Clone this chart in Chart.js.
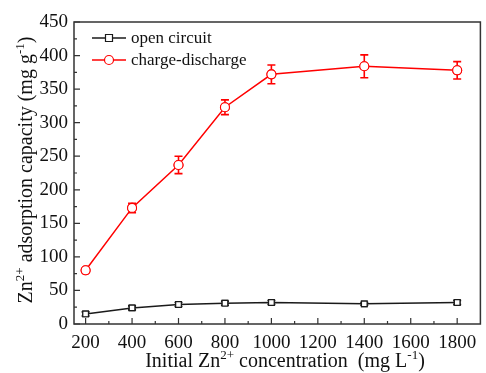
<!DOCTYPE html>
<html>
<head>
<meta charset="utf-8">
<script src="https://cdn.jsdelivr.net/npm/chart.js@4.4.0/dist/chart.umd.min.js"></script>
<style>
  html, body { margin: 0; padding: 0; background: #fff; }
  #wrap { width: 486px; height: 373px; }
</style>
</head>
<body>
<div id="wrap"><canvas id="zincChart"></canvas></div>
<script>
// ===== data =====
const concentrations = [200, 400, 600, 800, 1000, 1400, 1800];
const openCircuit = [15, 24, 29, 31, 32, 30, 32];
const openCircuitErr = [3, 3, 3, 3, 3, 2, 3];
const chargeDischarge = [80, 173, 237, 323, 372, 384, 378];
const chargeDischargeErr = [3, 7, 13, 11, 14, 17, 13];
const xTicks = [200, 400, 600, 800, 1000, 1200, 1400, 1600, 1800];
const yTicks = [0, 50, 100, 150, 200, 250, 300, 350, 400, 450];

const FONT = "'Liberation Serif', 'Times New Roman', serif";

// ===== error bars (markers redrawn on top) =====
const errorBars = {
    id: "errorBars",
    afterDatasetsDraw(chart) {
        const { ctx, scales: { x, y } } = chart;
        chart.data.datasets.forEach((ds, di) => {
            ctx.save();
            ctx.strokeStyle = ds.borderColor;
            ctx.lineWidth = 1.6;
            ds.data.forEach((pt, i) => {
                const e = ds.errors[i];
                const px = x.getPixelForValue(pt.x);
                const top = y.getPixelForValue(pt.y + e);
                const bot = y.getPixelForValue(pt.y - e);
                ctx.beginPath();
                ctx.moveTo(px, top); ctx.lineTo(px, bot);
                ctx.moveTo(px - 4, top); ctx.lineTo(px + 4, top);
                ctx.moveTo(px - 4, bot); ctx.lineTo(px + 4, bot);
                ctx.stroke();
            });
            chart.getDatasetMeta(di).data.forEach(p => p.draw(ctx, chart.chartArea));
            ctx.restore();
        });
    }
};

// ===== frame, inner ticks, titles, legend =====
function drawSup(ctx, parts, x, y) {
    // parts: [text, isSup], centred on x
    const base = ctx.font;
    const supFont = "13px " + FONT;
    let total = 0;
    parts.forEach(p => {
        ctx.font = p[1] ? supFont : base;
        total += ctx.measureText(p[0]).width;
    });
    let cx = x - total / 2;
    parts.forEach(p => {
        ctx.font = p[1] ? supFont : base;
        ctx.fillText(p[0], cx, p[1] ? y - 8 : y);
        cx += ctx.measureText(p[0]).width;
    });
    ctx.font = base;
}

const decorations = {
    id: "decorations",
    afterDraw(chart) {
        const { ctx, chartArea: a, scales: { x, y } } = chart;
        ctx.save();
        ctx.strokeStyle = "#333";
        ctx.lineWidth = 1.5;
        ctx.strokeRect(a.left, a.top, a.right - a.left, a.bottom - a.top);

        // inward ticks, major + minor
        ctx.lineWidth = 1.2;
        ctx.beginPath();
        for (let v = 200; v <= 1800; v += 100) {
            const px = x.getPixelForValue(v);
            const len = v % 200 === 0 ? 6 : 3;
            ctx.moveTo(px, a.bottom); ctx.lineTo(px, a.bottom - len);
        }
        for (let v = 0; v <= 450; v += 25) {
            const py = y.getPixelForValue(v);
            const len = v % 50 === 0 ? 6 : 3;
            ctx.moveTo(a.left, py); ctx.lineTo(a.left + len, py);
        }
        ctx.stroke();

        // axis titles
        ctx.fillStyle = "#111";
        ctx.textBaseline = "alphabetic";
        ctx.font = "20px " + FONT;
        drawSup(ctx, [["Initial Zn", false], ["2+", true], [" concentration  (mg L", false], ["-1", true], [")", false]],
            285, 367);

        ctx.save();
        ctx.translate(32, 170);
        ctx.rotate(-Math.PI / 2);
        drawSup(ctx, [["Zn", false], ["2+", true], [" adsorption capacity (mg g", false], ["-1", true], [")", false]],
            0, 0);
        ctx.restore();

        // legend
        ctx.font = "17px " + FONT;
        ctx.textBaseline = "middle";
        chart.data.datasets.forEach((ds, i) => {
            const ly = 38 + i * 22;
            ctx.strokeStyle = ds.borderColor;
            ctx.lineWidth = 1.6;
            ctx.beginPath();
            ctx.moveTo(92, ly); ctx.lineTo(126, ly);
            ctx.stroke();
            ctx.fillStyle = "#fff";
            ctx.lineWidth = 1.2;
            ctx.beginPath();
            if (ds.pointStyle === "rect") {
                ctx.rect(105.5, ly - 3.5, 7, 7);
            } else {
                ctx.arc(109, ly, 4.5, 0, Math.PI * 2);
            }
            ctx.fill(); ctx.stroke();
            ctx.fillStyle = "#111";
            ctx.fillText(ds.label, 131, ly + 1);
        });
        ctx.restore();
    }
};

const toPoints = vals => vals.map((v, i) => ({ x: concentrations[i], y: v }));

new Chart(document.getElementById("zincChart"), {
    type: "line",
    data: {
        datasets: [{
            label: "open circuit",
            data: toPoints(openCircuit),
            errors: openCircuitErr,
            borderColor: "#1a1a1a",
            backgroundColor: "#fff",
            borderWidth: 1.5,
            pointStyle: "rect",
            pointRadius: 4,
            pointBorderWidth: 1.2,
            pointBackgroundColor: "#fff"
        }, {
            label: "charge-discharge",
            data: toPoints(chargeDischarge),
            errors: chargeDischargeErr,
            borderColor: "#ff0000",
            backgroundColor: "#fff",
            borderWidth: 1.5,
            pointStyle: "circle",
            pointRadius: 4.5,
            pointBorderWidth: 1.1,
            pointBackgroundColor: "#fff"
        }]
    },
    options: {
        responsive: true,
        maintainAspectRatio: false,
        animation: false,
        layout: { padding: { top: 22, right: 1, left: 0, bottom: 0 } },
        plugins: {
            legend: { display: false },
            tooltip: { enabled: false }
        },
        scales: {
            x: {
                type: "linear",
                min: 150,
                max: 1900,
                afterBuildTicks: s => { s.ticks = xTicks.map(v => ({ value: v })); },
                afterFit: s => { s.height = 49; },
                grid: { display: false, drawTicks: false },
                border: { display: false },
                ticks: {
                    color: "#111",
                    padding: 8,
                    maxRotation: 0,
                    autoSkip: false,
                    font: { family: FONT, size: 19 },
                    callback: v => String(v)
                }
            },
            y: {
                min: 0,
                max: 450,
                afterBuildTicks: s => { s.ticks = yTicks.map(v => ({ value: v })); },
                afterFit: s => { s.width = 74; },
                grid: { display: false, drawTicks: false },
                border: { display: false },
                ticks: {
                    color: "#111",
                    padding: 6,
                    font: { family: FONT, size: 19 },
                    callback: v => String(v)
                }
            }
        }
    },
    plugins: [errorBars, decorations]
});
</script>
</body>
</html>
